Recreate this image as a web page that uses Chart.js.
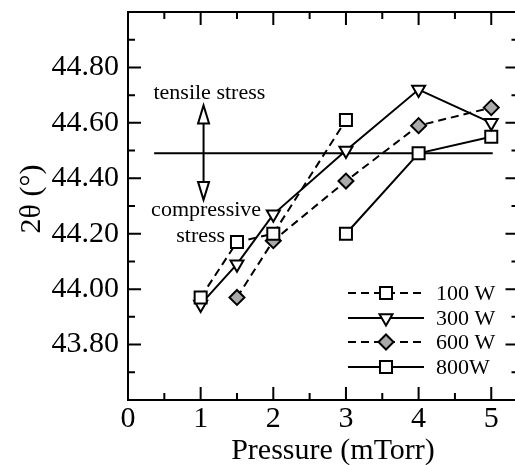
<!DOCTYPE html>
<html><head><meta charset="utf-8">
<script src="https://cdn.jsdelivr.net/npm/chart.js@4.4.0/dist/chart.umd.min.js"></script>
<style>html,body{margin:0;padding:0;overflow:hidden;background:#fff}
#wrap{width:529px;height:465px;position:relative}</style></head>
<body><div id="wrap"><canvas id="c" width="529" height="465"></canvas></div>
<script>
// ---- data ----
const pressure100 = [1, 1.5, 2, 3];
const theta100    = [43.97, 44.17, 44.20, 44.61];
const pressure300 = [1, 1.5, 2, 3, 4, 5];
const theta300    = [43.945, 44.09, 44.27, 44.50, 44.72, 44.60];
const pressure600 = [1.5, 2, 3, 4, 5];
const theta600    = [43.97, 44.175, 44.39, 44.59, 44.655];
const pressure800 = [3, 4, 5];
const theta800    = [44.20, 44.49, 44.55];
const seriesLabels = ['100 W', '300 W', '600 W', '800W'];
const refLineX = [0.36, 5.02];
const refLineY = 44.49;
const xTickLabels = ['0', '1', '2', '3', '4', '5'];
const yTickLabels = ['43.80', '44.00', '44.20', '44.40', '44.60', '44.80'];
const xAxisTitle = 'Pressure (mTorr)';
const yAxisTitle = '2θ (°)';
const tensileText = 'tensile stress';
const compressiveText = ['compressive', 'stress'];

const pts = (xs, ys) => xs.map((x, i) => ({x: x, y: ys[i]}));
const SERIF = '"Liberation Serif", "Times New Roman", serif';
const DASH = [8, 5];

const series = [
  {label: seriesLabels[0], data: pts(pressure100, theta100), borderDash: DASH, pointStyle: 'rect', pointRadius: 8.5, pointRotation: 0, pointBackgroundColor: '#ffffff'},
  {label: seriesLabels[1], data: pts(pressure300, theta300), borderDash: [], pointStyle: 'triangle', pointRadius: 7.5, pointRotation: 180, pointBackgroundColor: '#ffffff'},
  {label: seriesLabels[2], data: pts(pressure600, theta600), borderDash: DASH, pointStyle: 'rectRot', pointRadius: 7.5, pointRotation: 0, pointBackgroundColor: '#aaaaaa'},
  {label: seriesLabels[3], data: pts(pressure800, theta800), borderDash: [], pointStyle: 'rect', pointRadius: 8.5, pointRotation: 0, pointBackgroundColor: '#ffffff'}
].map(s => Object.assign({
  borderColor: '#000', borderWidth: 2, pointBorderColor: '#000', pointBorderWidth: 2,
  pointHoverRadius: s.pointRadius, fill: false, tension: 0, showLine: true
}, s));

const refDataset = {
  label: 'ref', data: [{x: refLineX[0], y: refLineY}, {x: refLineX[1], y: refLineY}],
  borderColor: '#000', borderWidth: 2, pointRadius: 0, showLine: true, fill: false
};

const isMult = (v, step) => Math.abs(v / step - Math.round(v / step)) < 1e-6;
const stepTicks = (from, n, step) => Array.from({length: n}, (_, i) => ({value: Math.round((from + i * step) * 1000) / 1000}));

const framePlugin = {
  id: 'frame',
  afterDatasetsDraw(chart) {
    const {ctx, chartArea: a, scales: {x, y}} = chart;
    ctx.save();
    ctx.strokeStyle = '#000';
    ctx.lineWidth = 2;
    ctx.setLineDash([]);
    // reference arrow
    const ax = x.getPixelForValue(1.04);
    const yTop = y.getPixelForValue(44.663);
    const yBot = y.getPixelForValue(44.322);
    const hl = 18, hw = 5.5;
    ctx.beginPath(); ctx.moveTo(ax, yTop + hl); ctx.lineTo(ax, yBot - hl); ctx.stroke();
    ctx.fillStyle = '#fff';
    ctx.beginPath(); ctx.moveTo(ax, yTop); ctx.lineTo(ax - hw, yTop + hl); ctx.lineTo(ax + hw, yTop + hl); ctx.closePath(); ctx.fill(); ctx.stroke();
    ctx.beginPath(); ctx.moveTo(ax, yBot); ctx.lineTo(ax - hw, yBot - hl); ctx.lineTo(ax + hw, yBot - hl); ctx.closePath(); ctx.fill(); ctx.stroke();
    // annotation texts
    ctx.fillStyle = '#000';
    ctx.font = '22px ' + SERIF;
    ctx.textAlign = 'center'; ctx.textBaseline = 'middle';
    ctx.fillText(tensileText, x.getPixelForValue(1.12), y.getPixelForValue(44.708));
    ctx.fillText(compressiveText[0], x.getPixelForValue(1.075), y.getPixelForValue(44.285));
    ctx.fillText(compressiveText[1], x.getPixelForValue(1.0), y.getPixelForValue(44.19));
    // frame
    ctx.lineWidth = 2;
    ctx.strokeRect(a.left, a.top, a.right - a.left, a.bottom - a.top);
    // x ticks (top and bottom, inward)
    x.ticks.forEach(t => {
      if (!isMult(t.value, 0.5) || t.value > 5.01) return;
      const px = x.getPixelForValue(t.value);
      const len = isMult(t.value, 1) ? 13 : 7;
      ctx.beginPath();
      ctx.moveTo(px, a.bottom); ctx.lineTo(px, a.bottom - len);
      ctx.moveTo(px, a.top); ctx.lineTo(px, a.top + len);
      ctx.stroke();
    });
    y.ticks.forEach(t => {
      if (!isMult(t.value, 0.1)) return;
      const py = y.getPixelForValue(t.value);
      const len = isMult(t.value, 0.2) ? 13 : 7;
      ctx.beginPath();
      ctx.moveTo(a.left, py); ctx.lineTo(a.left + len, py);
      ctx.moveTo(a.right, py); ctx.lineTo(a.right - len, py);
      ctx.stroke();
    });
    ctx.restore();
  },
  afterDraw(chart) {
    const {ctx} = chart;
    ctx.save();
    ctx.fillStyle = '#000';
    // axis titles
    ctx.font = '30px ' + SERIF;
    ctx.textAlign = 'center'; ctx.textBaseline = 'alphabetic';
    ctx.fillText(xAxisTitle, 333, 459);
    ctx.save();
    ctx.translate(40, 199);
    ctx.rotate(-Math.PI / 2);
    ctx.fillText(yAxisTitle, 0, 0);
    ctx.restore();
    // legend
    const rows = [293, 318, 342, 367];
    const x0 = 348, x1 = 424, xm = 386;
    chart.data.datasets.slice(0, 4).forEach((ds, i) => {
      const yy = rows[i];
      ctx.strokeStyle = '#000'; ctx.lineWidth = 2;
      ctx.setLineDash(ds.borderDash || []);
      ctx.beginPath(); ctx.moveTo(x0, yy); ctx.lineTo(x1, yy); ctx.stroke();
      ctx.setLineDash([]);
      ctx.fillStyle = ds.pointBackgroundColor;
      ctx.strokeStyle = '#000'; ctx.lineWidth = 2;
      Chart.helpers.drawPoint(ctx, {pointStyle: ds.pointStyle, rotation: ds.pointRotation, radius: ds.pointRadius, borderWidth: 2}, xm, yy);
      ctx.fillStyle = '#000';
      ctx.font = '22px ' + SERIF;
      ctx.textAlign = 'left'; ctx.textBaseline = 'middle';
      ctx.fillText(ds.label, 436, yy + 1);
    });
    ctx.restore();
  }
};

new Chart(document.getElementById('c'), {
  type: 'scatter',
  data: {datasets: [...series, refDataset]},
  options: {
    responsive: false, animation: false, devicePixelRatio: 1,
    layout: {padding: {left: 0, top: 12, right: 4, bottom: 0}},
    plugins: {legend: {display: false}, tooltip: {enabled: false}},
    scales: {
      x: {
        type: 'linear', min: 0, max: 5.375,
        grid: {display: false, drawTicks: false}, border: {display: false},
        afterBuildTicks: s => { s.ticks = stepTicks(0, 11, 0.5); },
        afterFit: s => { s.height = 65; s.paddingLeft = 0; s.paddingRight = 0; },
        ticks: {
          autoSkip: false, maxRotation: 0, minRotation: 0, padding: 1, color: '#000',
          font: {family: SERIF, size: 30},
          callback: v => (isMult(v, 1) && v <= 5.01) ? xTickLabels[Math.round(v)] : ''
        }
      },
      y: {
        type: 'linear', min: 43.6, max: 45.0,
        grid: {display: false, drawTicks: false}, border: {display: false},
        afterBuildTicks: s => { s.ticks = stepTicks(43.6, 15, 0.1); },
        afterFit: s => { s.width = 128; s.paddingTop = 0; s.paddingBottom = 0; },
        ticks: {
          autoSkip: false, padding: 9, color: '#000',
          font: {family: SERIF, size: 30},
          callback: v => {
            const k = Math.round((v - 43.8) / 0.2 * 1000) / 1000;
            return (Number.isInteger(k) && k >= 0 && k < yTickLabels.length) ? yTickLabels[k] : '';
          }
        }
      }
    }
  },
  plugins: [framePlugin]
});
</script></body></html>
